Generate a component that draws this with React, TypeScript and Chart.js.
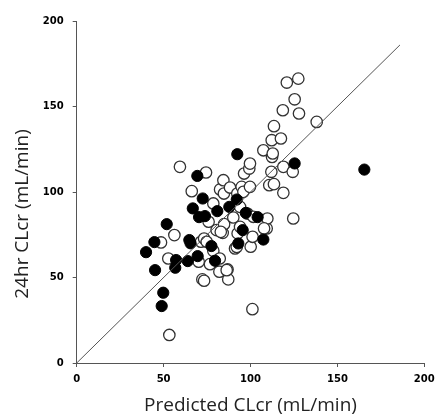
import React, { useEffect, useRef } from "react";
import { Chart, registerables } from "chart.js";

Chart.register(...registerables);

const openX = [53.3, 101.1, 48.5, 52.7, 56.2, 59.4, 66.2, 74.4, 72.3, 70.2, 71.5, 73.3, 75.9, 76.7, 78.6, 78.6, 80.5, 82.1, 82.3, 82.5, 84.4, 84.7, 84.0, 84.8, 87.2, 86.8, 88.2, 90.1, 91.1, 92.4, 94.0, 94.9, 95.9, 96.3, 98.2, 99.3, 99.7, 99.7, 100.1, 101.2, 101.6, 107.4, 109.3, 109.7, 110.8, 112.0, 112.2, 112.4, 112.8, 113.5, 113.5, 117.5, 118.6, 118.9, 118.9, 120.9, 124.6, 124.3, 125.4, 127.5, 127.9, 138.1, 74.8, 92.6, 94.0, 82.9, 86.3, 73.3, 92.1, 107.8];
const openY = [16.4, 31.5, 70.5, 61.1, 74.8, 114.7, 100.5, 111.4, 48.9, 59.2, 70.9, 72.8, 82.6, 57.8, 65.6, 93.3, 77.7, 53.4, 61.1, 101.5, 106.9, 99.1, 76.1, 81.2, 48.9, 54.7, 102.6, 85.1, 67.0, 99.1, 91.3, 103.0, 100.1, 110.8, 87.4, 113.7, 116.6, 103.0, 68.0, 73.8, 85.5, 124.4, 78.7, 84.5, 104.0, 111.8, 130.3, 120.5, 122.5, 138.5, 104.6, 131.3, 147.8, 114.7, 99.5, 164.0, 84.5, 111.8, 154.2, 166.3, 145.9, 141.0, 70.9, 75.8, 79.6, 76.7, 54.3, 48.1, 67.9, 78.7];

const filledX = [39.9, 44.7, 45.1, 51.8, 49.8, 48.9, 57.2, 56.7, 63.9, 64.8, 65.5, 69.6, 77.5, 79.6, 66.8, 72.5, 70.4, 73.8, 80.9, 87.8, 92.1, 97.3, 95.5, 93.0, 69.4, 92.4, 104.1, 107.4, 125.4, 165.5];
const filledY = [64.8, 70.7, 54.3, 81.2, 41.1, 33.3, 60.2, 55.7, 59.6, 71.9, 70.0, 62.5, 68.4, 59.8, 90.4, 96.2, 85.3, 85.9, 88.8, 91.3, 95.6, 87.8, 77.7, 69.9, 109.4, 122.1, 85.3, 72.2, 116.7, 113.1];

const identityX = [0, 186];
const axisTicks = [0, 50, 100, 150, 200];
const xTitle = "Predicted CLcr (mL/min)";
const yTitle = "24hr CLcr (mL/min)";

export default function App() {
  const ref = useRef<HTMLCanvasElement>(null);
  useEffect(() => {
    if (!ref.current) return;
    const toPts = (xs: number[], ys: number[]) => xs.map((x, i) => ({ x, y: ys[i] }));
    const tickFont = { family: "DejaVu Sans", size: 10, weight: "bold" as const };
    const titleFont = { family: "Open Sans", size: 19 };
    const yTitlePlugin = {
      id: "yTitle",
      afterDraw(chart: any) {
        const ctx = chart.ctx;
        const area = chart.chartArea;
        ctx.save();
        ctx.translate(23, (area.top + area.bottom) / 2 + 22);
        ctx.rotate(-Math.PI / 2);
        ctx.font = "19px 'Open Sans'";
        ctx.fillStyle = "#222";
        ctx.textAlign = "center";
        ctx.textBaseline = "middle";
        ctx.fillText(yTitle, 0, 0);
        ctx.restore();
      },
    };
    const chart = new Chart(ref.current, {
      type: "scatter",
      data: {
        datasets: [
          {
            type: "line",
            data: identityX.map((v) => ({ x: v, y: v })),
            borderColor: "#555",
            borderWidth: 1,
            pointRadius: 0,
            fill: false,
          } as any,
          {
            data: toPts(filledX, filledY),
            backgroundColor: "#000",
            borderColor: "#000",
            borderWidth: 1,
            pointRadius: 5.6,
          },
          {
            data: toPts(openX, openY),
            backgroundColor: "#fff",
            borderColor: "#333",
            borderWidth: 1.3,
            pointRadius: 5.7,
          },
        ],
      },
      options: {
        animation: false,
        responsive: false,
        layout: { padding: { top: 21, right: 10.7, left: 0, bottom: 0 } },
        plugins: { legend: { display: false }, tooltip: { enabled: false } },
        scales: {
          x: {
            type: "linear",
            min: 0,
            max: 200,
            afterBuildTicks: (s: any) => { s.ticks = axisTicks.map((v) => ({ value: v })); },
            afterFit: (s: any) => { s.height = 54; s.paddingRight = 0; s.paddingLeft = 0; },
            grid: { display: true, drawOnChartArea: false, drawTicks: true, tickLength: 4, color: "#555" },
            border: { color: "#555", width: 1 },
            ticks: { color: "#000", font: tickFont, padding: 6, maxRotation: 0 },
            title: { display: true, text: xTitle, color: "#222", font: titleFont, padding: { top: 2, bottom: 0 } },
          },
          y: {
            type: "linear",
            min: 0,
            max: 200,
            afterBuildTicks: (s: any) => { s.ticks = axisTicks.map((v) => ({ value: v })); },
            afterFit: (s: any) => { s.width = 76.7; s.paddingTop = 0; s.paddingBottom = 0; },
            grid: { display: true, drawOnChartArea: false, drawTicks: true, tickLength: 4, color: "#555" },
            border: { color: "#555", width: 1 },
            ticks: { color: "#000", font: tickFont, padding: 9 },
          },
        },
      },
      plugins: [yTitlePlugin],
    });
    return () => chart.destroy();
  }, []);
  return (
    <div style={{ position: "fixed", left: 0, top: 0, width: 435, height: 417, background: "#fff" }}>
      <canvas ref={ref} width={435} height={417} style={{ width: 435, height: 417 }} />
    </div>
  );
}
